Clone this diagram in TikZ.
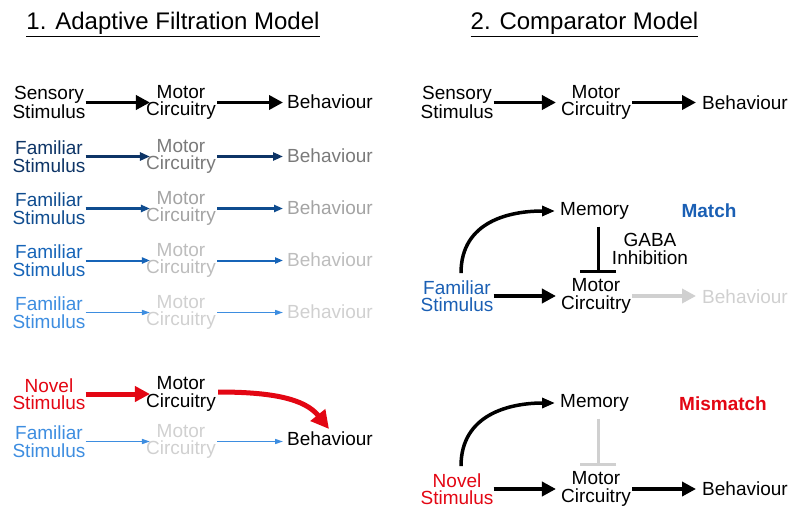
\documentclass[tikz,border=0pt]{standalone}
\usepackage{fontspec}
\setmainfont{Liberation Sans}
\usetikzlibrary{arrows.meta}
\definecolor{navyA}{HTML}{0D3466}
\definecolor{blueB}{HTML}{0F4C8F}
\definecolor{blueC}{HTML}{1664B8}
\definecolor{blueD}{HTML}{3D8DE0}
\definecolor{grayA}{HTML}{7A7A7A}
\definecolor{grayB}{HTML}{A3A3A3}
\definecolor{grayC}{HTML}{BDBDBD}
\definecolor{grayD}{HTML}{D0D0D0}
\definecolor{redA}{HTML}{E30613}
\definecolor{matchblue}{HTML}{1A5FB4}
\begin{document}
\begin{tikzpicture}[x=1pt,y=-1pt,
  lbl/.style={inner sep=0pt, align=center, font=\fontsize{19}{17.5}\selectfont},
  ttl/.style={inner sep=0pt, anchor=base, font=\fontsize{24}{28}\selectfont},
  bigarr/.style={line width=3.5pt, -{Triangle[length=14pt,width=14pt]}},
  arrA/.style={line width=3pt, navyA, -{Triangle[length=10pt,width=8pt]}},
  arrB/.style={line width=2.5pt, blueB, -{Triangle[length=9pt,width=7pt]}},
  arrC/.style={line width=2pt, blueC, -{Triangle[length=8pt,width=6pt]}},
  arrD/.style={line width=1.5pt, blueD, -{Triangle[length=8pt,width=5pt]}},
  curvearr/.style={line width=3.5pt, -{Triangle[length=13pt,width=10pt]}},
  inhib/.style={line width=3pt, -{Bar[width=36pt]}},
]
\useasboundingbox (0,0) rectangle (800,519);

% titles
\node[ttl] (t1) at (173,30) {\underline{1. Adaptive Filtration Model}};
\node[ttl] (t2) at (584.5,30) {\underline{2. Comparator Model}};

% ---------- left panel ----------
\node[lbl] (s1) at (49,102.5) {Sensory\\Stimulus};
\node[lbl] (m1) at (181,102.5) {Motor\\Circuitry};
\node[lbl] (b1) at (330,101.5) {Behaviour};
\draw[bigarr, shorten >=-4pt] (s1.east) -- (s1.east -| m1.west);
\draw[bigarr, shorten >=4pt, shorten <=1pt] (m1.east) -- (m1.east -| b1.west);

\node[lbl, text=navyA] (s2) at (49,156.5) {Familiar\\Stimulus};
\node[lbl, text=grayA] (m2) at (181,156.5) {Motor\\Circuitry};
\node[lbl, text=grayA] (b2) at (330,155.5) {Behaviour};
\draw[arrA, shorten >=-4pt] (s2.east) -- (s2.east -| m2.west);
\draw[arrA, shorten >=4pt, shorten <=1pt] (m2.east) -- (m2.east -| b2.west);

\node[lbl, text=blueB] (s3) at (49,208.5) {Familiar\\Stimulus};
\node[lbl, text=grayB] (m3) at (181,208.5) {Motor\\Circuitry};
\node[lbl, text=grayB] (b3) at (330,207.5) {Behaviour};
\draw[arrB, shorten >=-4pt] (s3.east) -- (s3.east -| m3.west);
\draw[arrB, shorten >=4pt, shorten <=1pt] (m3.east) -- (m3.east -| b3.west);

\node[lbl, text=blueC] (s4) at (49,260.5) {Familiar\\Stimulus};
\node[lbl, text=grayC] (m4) at (181,260.5) {Motor\\Circuitry};
\node[lbl, text=grayC] (b4) at (330,259.5) {Behaviour};
\draw[arrC, shorten >=-4pt] (s4.east) -- (s4.east -| m4.west);
\draw[arrC, shorten >=4pt, shorten <=1pt] (m4.east) -- (m4.east -| b4.west);

\node[lbl, text=blueD] (s5) at (49,312.5) {Familiar\\Stimulus};
\node[lbl, text=grayD] (m5) at (181,312.5) {Motor\\Circuitry};
\node[lbl, text=grayD] (b5) at (330,311.5) {Behaviour};
\draw[arrD, shorten >=-4pt] (s5.east) -- (s5.east -| m5.west);
\draw[arrD, shorten >=4pt, shorten <=1pt] (m5.east) -- (m5.east -| b5.west);

\node[lbl, text=redA] (s6) at (49,394) {Novel\\Stimulus};
\node[lbl] (m6) at (181,394) {Motor\\Circuitry};
\draw[line width=5pt, redA, -{Triangle[length=15pt,width=15pt]}, shorten >=-4pt] (s6.east) -- (s6.east -| m6.west);

\node[lbl, text=blueD] (s7) at (49,441.5) {Familiar\\Stimulus};
\node[lbl, text=grayD] (m7) at (181,441.5) {Motor\\Circuitry};
\node[lbl] (b7) at (330,439) {Behaviour};
\draw[arrD, shorten >=-4pt] (s7.east) -- (s7.east -| m7.west);
\draw[arrD, shorten >=4pt, shorten <=1pt] (m7.east) -- (m7.east -| b7.west);

\coordinate (rtip) at (329,429);
\draw[line width=5pt, redA, -{Triangle[length=18pt,width=18pt]}]
  ([xshift=2pt,yshift=2pt]m6.east) .. controls +(55,0) and +(-24,-30) .. (rtip);

% ---------- right panel ----------
\node[lbl] (rs1) at (457,102.5) {Sensory\\Stimulus};
\node[lbl] (rm1) at (596,102.5) {Motor\\Circuitry};
\node[lbl] (rb1) at (745,102.5) {Behaviour};
\draw[bigarr, shorten >=5pt] (rs1.east) -- (rs1.east -| rm1.west);
\draw[bigarr, shorten >=6pt, shorten <=1pt] (rm1.east) -- (rm1.east -| rb1.west);

% match
\node[lbl] (mem1) at (594.5,211) {Memory};
\node[lbl, text=matchblue, font=\fontsize{19}{17}\selectfont\bfseries] (match) at (709,211) {Match};
\node[lbl] (gaba) at (650,249) {GABA\\Inhibition};
\node[lbl, text=matchblue] (rs2) at (457,296) {Familiar\\Stimulus};
\node[lbl] (rm2) at (596,296) {Motor\\Circuitry};
\node[lbl, text=grayD] (rb2) at (745,297) {Behaviour};
\draw[bigarr, shorten >=5pt] (rs2.east) -- (rs2.east -| rm2.west);
\draw[bigarr, grayD, shorten >=6pt, shorten <=1pt] (rm2.east) -- (rm2.east -| rb2.west);
\draw[curvearr, shorten >=5pt] ([xshift=4pt,yshift=7pt]rs2.north) .. controls +(0,-52) and +(-50,0) .. (mem1.west);
\draw[inhib] ([xshift=3.5pt,yshift=-7pt]mem1.south) -- ([xshift=2pt,yshift=6pt]rm2.north);

% mismatch
\node[lbl] (mem2) at (594.5,403) {Memory};
\node[lbl, text=redA, font=\fontsize{19}{17}\selectfont\bfseries] (mis) at (723,404) {Mismatch};
\node[lbl, text=redA] (rs3) at (457,489) {Novel\\Stimulus};
\node[lbl] (rm3) at (596,489) {Motor\\Circuitry};
\node[lbl] (rb3) at (745,489) {Behaviour};
\draw[bigarr, shorten >=5pt] (rs3.east) -- (rs3.east -| rm3.west);
\draw[bigarr, shorten >=6pt, shorten <=1pt] (rm3.east) -- (rm3.east -| rb3.west);
\draw[curvearr, shorten >=5pt] ([xshift=4pt,yshift=7pt]rs3.north) .. controls +(0,-52) and +(-50,0) .. (mem2.west);
\draw[inhib, grayD] ([xshift=3.5pt,yshift=-7pt]mem2.south) -- ([xshift=2pt,yshift=6pt]rm3.north);
\end{tikzpicture}
\end{document}
